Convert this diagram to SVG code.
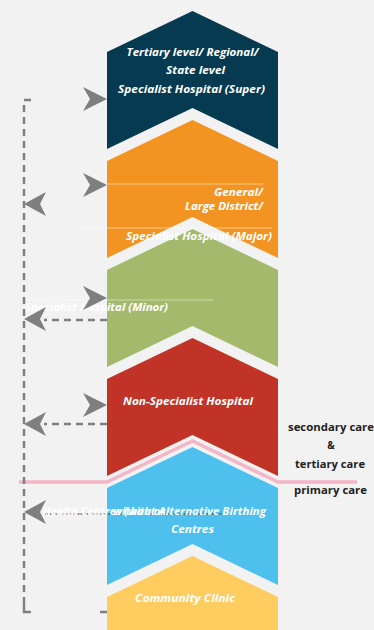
<svg xmlns="http://www.w3.org/2000/svg" width="374" height="630" viewBox="0 0 374 630">
<style>
.lbl{font-family:"Open Sans","Liberation Sans",sans-serif;font-weight:700;font-style:italic;font-size:11px;fill:#ffffff}
.side{font-family:"Open Sans","Liberation Sans",sans-serif;font-weight:700;font-size:10px;fill:#222222}
.dash{fill:none;stroke:#7f7f80;stroke-width:2.5;stroke-dasharray:7 5}
.solid{fill:none;stroke:#7f7f80;stroke-width:2.5}
.ah{fill:#7f7f80}
.hair{stroke:#ffffff;stroke-opacity:0.6;stroke-width:0.8}
</style>
<defs>
<path id="arR" d="M0,0 L-24,-12 L-17,0 L-24,12 Z"/>
<path id="arL" d="M0,0 L22,-12 L16,0 L22,12 Z"/>
</defs>
<rect width="374" height="630" fill="#f2f2f2"/>

<g id="node-super">
<polygon points="192.5,11 278,52 278,149 192.5,108 107,149 107,52" fill="#053a50"/>
<text class="lbl" x="192.5" y="56" text-anchor="middle" textLength="132" lengthAdjust="spacingAndGlyphs">Tertiary level/ Regional/</text>
<text class="lbl" x="195.5" y="74" text-anchor="middle" textLength="59" lengthAdjust="spacingAndGlyphs">State level</text>
<text class="lbl" x="191.5" y="93" text-anchor="middle" textLength="147" lengthAdjust="spacingAndGlyphs">Specialist Hospital (Super)</text>
</g>

<g id="node-minor">
<polygon points="192.5,229 278,270 278,367 192.5,326 107,367 107,270" fill="#a4b96b"/>
<line class="hair" x1="25" y1="300" x2="213" y2="300"/>
<text class="lbl" x="25" y="311" textLength="143" lengthAdjust="spacingAndGlyphs">Specialist Hospital (Minor)</text>
</g>

<g id="node-major">
<polygon points="192.5,120 278,161 278,258 192.5,217 107,258 107,161" fill="#f39422"/>
<line class="hair" x1="71" y1="184" x2="263" y2="184"/>
<line class="hair" x1="81" y1="228" x2="272" y2="228"/>
<text class="lbl" x="263" y="196" text-anchor="end" textLength="49" lengthAdjust="spacingAndGlyphs">General/</text>
<text class="lbl" x="263" y="209.5" text-anchor="end" textLength="78" lengthAdjust="spacingAndGlyphs">Large District/</text>
<text class="lbl" x="272" y="240" text-anchor="end" textLength="146" lengthAdjust="spacingAndGlyphs">Specialist Hospital (Major)</text>
</g>

<g id="node-nonspecialist">
<polygon points="192.5,338 278,379 278,476 192.5,435 107,476 107,379" fill="#c03326"/>
<text class="lbl" x="188" y="405" text-anchor="middle" textLength="130" lengthAdjust="spacingAndGlyphs">Non-Specialist Hospital</text>
</g>

<g id="node-health-centres">
<polygon points="192.5,447 278,488 278,585 192.5,544 107,585 107,488" fill="#4dc0ee"/>
</g>

<g id="node-community">
<polygon points="192.5,556 278,597 278,630 107,630 107,597" fill="#fecc5f"/>
<text class="lbl" x="185" y="602" text-anchor="middle" textLength="100" lengthAdjust="spacingAndGlyphs">Community Clinic</text>
</g>

<g id="divider">
<polyline points="19,482 107,482 192.5,441 278,482 357,482" fill="none" stroke="#f4b6c6" stroke-width="3.5"/>
<text class="side" x="288" y="430.5" textLength="86" lengthAdjust="spacingAndGlyphs">secondary care</text>
<text class="side" x="331" y="449" text-anchor="middle">&amp;</text>
<text class="side" x="295" y="468" textLength="70" lengthAdjust="spacingAndGlyphs">tertiary care</text>
<text class="side" x="294" y="494" textLength="73" lengthAdjust="spacingAndGlyphs">primary care</text>
</g>

<g id="connectors">
<path class="dash" d="M31,100 H24 V606"/>
<path class="solid" d="M24,604 V612 H31"/>
<path class="solid" d="M100,612 H107"/>
<path class="dash" d="M107,320 H44"/>
<path class="dash" d="M107,424 H44"/>
<line x1="44" y1="514" x2="222" y2="514" stroke="#333333" stroke-width="1" stroke-dasharray="2 0.8"/>
<use href="#arR" class="ah" x="107" y="99"/>
<use href="#arR" class="ah" x="107" y="185"/>
<use href="#arR" class="ah" x="107" y="298"/>
<use href="#arR" class="ah" x="107" y="405"/>
<use href="#arL" class="ah" x="24" y="204"/>
<use href="#arL" class="ah" x="24" y="319"/>
<use href="#arL" class="ah" x="24" y="424"/>
<use href="#arL" class="ah" x="24" y="512"/>
</g>

<g id="node-health-centres-labels">
<text class="lbl" x="43" y="515" textLength="122" lengthAdjust="spacingAndGlyphs">Health Centres (with or</text>
<text class="lbl" x="113" y="515" textLength="153" lengthAdjust="spacingAndGlyphs">without Alternative Birthing</text>
<text class="lbl" x="192.5" y="533" text-anchor="middle" textLength="43" lengthAdjust="spacingAndGlyphs">Centres</text>
</g>
</svg>
